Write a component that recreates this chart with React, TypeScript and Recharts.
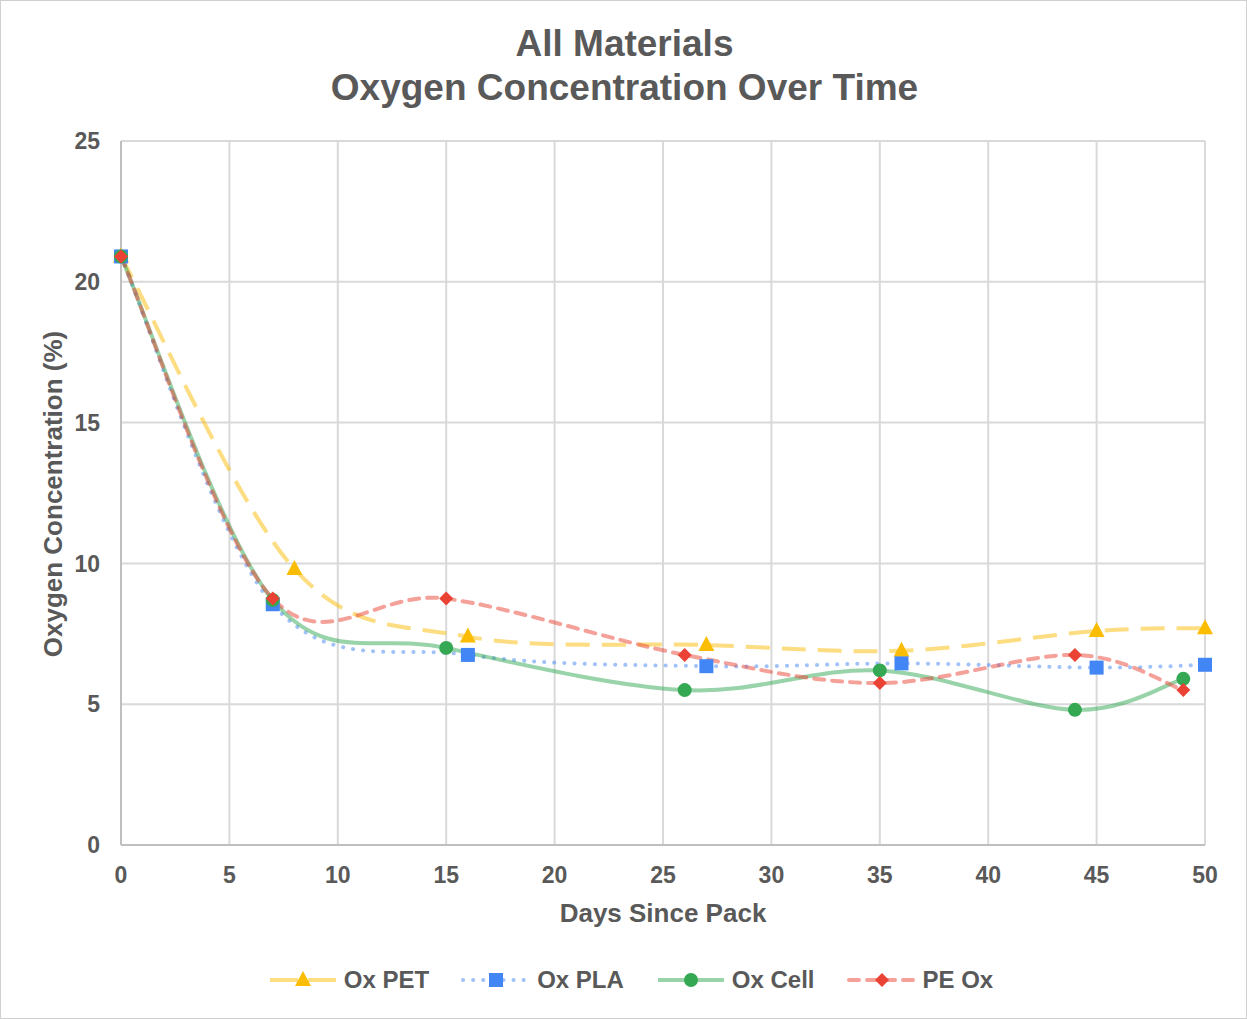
import { LineChart, Line, XAxis, YAxis, CartesianGrid } from "recharts";

const petDays = [0, 8, 16, 27, 36, 45, 50];
const petO2 = [20.9, 9.8, 7.4, 7.1, 6.9, 7.6, 7.7];
const plaDays = [0, 7, 16, 27, 36, 45, 50];
const plaO2 = [20.9, 8.55, 6.75, 6.35, 6.45, 6.3, 6.4];
const cellDays = [0, 7, 15, 26, 35, 44, 49];
const cellO2 = [20.9, 8.7, 7.0, 5.5, 6.2, 4.8, 5.9];
const peDays = [0, 7, 15, 26, 35, 44, 49];
const peO2 = [20.9, 8.75, 8.75, 6.75, 5.75, 6.75, 5.5];

const xTicks = [0, 5, 10, 15, 20, 25, 30, 35, 40, 45, 50];
const yTicks = [0, 5, 10, 15, 20, 25];

const toRows = (days: number[], vals: number[]) =>
  days.map((d, i) => ({ day: d, o2: vals[i] }));

const FONT = "'Liberation Sans', Arial, sans-serif";
const TEXT = "#595959";

// Excel-like smoothing (Catmull-Rom through points)
const smoothCurve = (context: any) => {
  let pts: number[][] = [];
  return {
    areaStart() {},
    areaEnd() {},
    lineStart() {
      pts = [];
    },
    point(x: number, y: number) {
      pts.push([+x, +y]);
    },
    lineEnd() {
      if (!pts.length) return;
      context.moveTo(pts[0][0], pts[0][1]);
      for (let i = 0; i < pts.length - 1; i++) {
        const p0 = pts[i - 1] ?? pts[i];
        const p1 = pts[i];
        const p2 = pts[i + 1];
        const p3 = pts[i + 2] ?? p2;
        context.bezierCurveTo(
          p1[0] + (p2[0] - p0[0]) / 6,
          p1[1] + (p2[1] - p0[1]) / 6,
          p2[0] - (p3[0] - p1[0]) / 6,
          p2[1] - (p3[1] - p1[1]) / 6,
          p2[0],
          p2[1]
        );
      }
    },
  };
};

const Triangle = ({ cx, cy, fill }: any) => (
  <polygon
    points={`${cx},${cy - 9} ${cx + 8},${cy + 6} ${cx - 8},${cy + 6}`}
    fill={fill}
  />
);
const Square = ({ cx, cy, fill }: any) => (
  <rect x={cx - 7} y={cy - 7} width={14} height={14} fill={fill} />
);
const Circle = ({ cx, cy, fill }: any) => <circle cx={cx} cy={cy} r={7} fill={fill} />;
const Diamond = ({ cx, cy, fill }: any) => (
  <polygon
    points={`${cx},${cy - 7} ${cx + 7},${cy} ${cx},${cy + 7} ${cx - 7},${cy}`}
    fill={fill}
  />
);

const series = [
  {
    name: "Ox PET",
    data: toRows(petDays, petO2),
    color: "#FBBC04",
    dash: "24 12",
    cap: "butt",
    Shape: Triangle,
  },
  {
    name: "Ox PLA",
    data: toRows(plaDays, plaO2),
    color: "#4285F4",
    dash: "0.1 10",
    cap: "round",
    Shape: Square,
  },
  {
    name: "Ox Cell",
    data: toRows(cellDays, cellO2),
    color: "#34A853",
    dash: undefined,
    cap: "butt",
    Shape: Circle,
  },
  {
    name: "PE Ox",
    data: toRows(peDays, peO2),
    color: "#EA4335",
    dash: "10 8",
    cap: "round",
    Shape: Diamond,
  },
];

const tickStyle = { fontSize: 23, fontWeight: "bold", fill: TEXT, fontFamily: FONT };

export default function App() {
  return (
    <div
      style={{
        position: "absolute",
        left: 0,
        top: 0,
        width: 1245,
        height: 1017,
        border: "1px solid #d0d0d0",
        background: "#fff",
        fontFamily: FONT,
        color: TEXT,
      }}
    >
      <div
        style={{
          position: "absolute",
          top: 21,
          left: 0,
          width: 1247,
          textAlign: "center",
          fontSize: 37,
          fontWeight: "bold",
          lineHeight: "44px",
        }}
      >
        All Materials
        <br />
        Oxygen Concentration Over Time
      </div>
      <LineChart
        width={1247}
        height={1019}
        margin={{ top: 141, right: 42, bottom: 134, left: 61 }}
        style={{ position: "absolute", left: -1, top: -1 }}
      >
        <CartesianGrid stroke="#d9d9d9" strokeWidth={2} />
        <XAxis
          type="number"
          dataKey="day"
          domain={[0, 50]}
          ticks={xTicks}
          height={40}
          tickLine={false}
          tickMargin={16}
          axisLine={{ stroke: "#bfbfbf", strokeWidth: 2 }}
          tick={tickStyle}
        />
        <YAxis
          type="number"
          domain={[0, 25]}
          ticks={yTicks}
          width={60}
          tickLine={false}
          tickMargin={15}
          axisLine={{ stroke: "#bfbfbf", strokeWidth: 2 }}
          tick={tickStyle}
        />
        {series.map((s) => (
          <Line
            key={s.name}
            data={s.data}
            dataKey="o2"
            name={s.name}
            type={smoothCurve as any}
            stroke={s.color}
            strokeOpacity={0.5}
            strokeWidth={4}
            strokeDasharray={s.dash}
            strokeLinecap={s.cap as any}
            dot={(p: any) => <s.Shape key={p.index} cx={p.cx} cy={p.cy} fill={s.color} />}
            activeDot={false}
            isAnimationActive={false}
          />
        ))}
      </LineChart>
      <div
        style={{
          position: "absolute",
          left: 52,
          top: 493,
          transform: "translate(-50%, -50%) rotate(-90deg)",
          whiteSpace: "nowrap",
          fontSize: 26,
          fontWeight: "bold",
        }}
      >
        Oxygen Concentration (%)
      </div>
      <div
        style={{
          position: "absolute",
          left: 662,
          top: 912,
          transform: "translate(-50%, -50%)",
          whiteSpace: "nowrap",
          fontSize: 26,
          fontWeight: "bold",
        }}
      >
        Days Since Pack
      </div>
      <div
        style={{
          position: "absolute",
          top: 965,
          left: 0,
          width: 1259,
          display: "flex",
          justifyContent: "center",
          gap: 32,
          fontSize: 24,
          fontWeight: "bold",
        }}
      >
        {series.map((s) => (
          <div key={s.name} style={{ display: "flex", alignItems: "center" }}>
            <svg width={70} height={28}>
              <line
                x1={2}
                y1={14}
                x2={68}
                y2={14}
                stroke={s.color}
                strokeOpacity={0.5}
                strokeWidth={4}
                strokeDasharray={s.dash === "24 12" ? "28 10" : s.dash}
                strokeLinecap={s.cap as any}
              />
              <s.Shape cx={35} cy={14} fill={s.color} />
            </svg>
            <span style={{ marginLeft: 6 }}>{s.name}</span>
          </div>
        ))}
      </div>
    </div>
  );
}
